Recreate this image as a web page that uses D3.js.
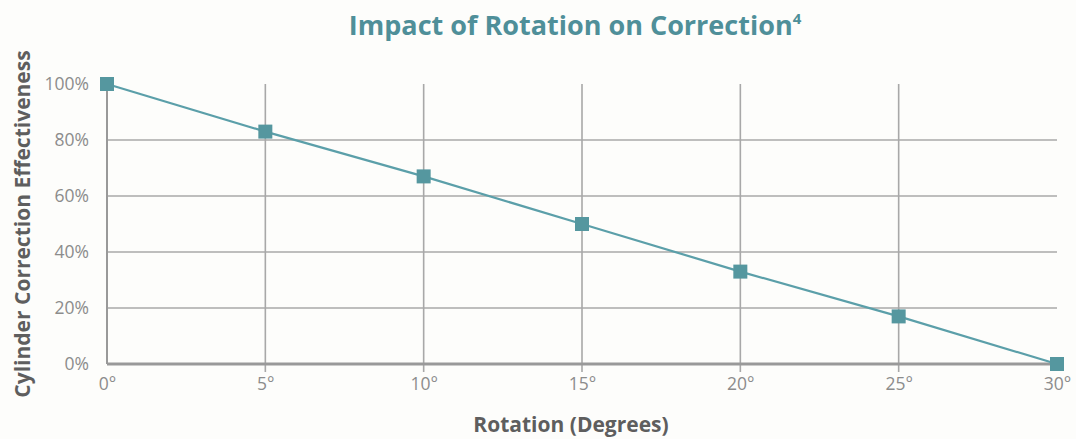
<!DOCTYPE html>
<html>
<head>
<meta charset="utf-8">
<script src="https://cdn.jsdelivr.net/npm/d3@7/dist/d3.min.js"></script>
<style>
  body { margin: 0; background: #fdfdfb; }
  svg { display: block; font-family: "Open Sans", "Noto Sans", sans-serif; }
</style>
</head>
<body>
<svg id="chart" width="1076" height="439"></svg>
<script>
// Rotation (degrees) vs. remaining cylinder correction effectiveness (%)
const rotations = [0, 5, 10, 15, 20, 25, 30];
const effectiveness = [100, 83, 67, 50, 33, 17, 0];
const yTicks = [0, 20, 40, 60, 80, 100];
const xGridTicks = [5, 10, 15, 20, 25];

const svg = d3.select("#chart");
const margin = { left: 107, right: 19, top: 84, bottom: 75 };
const W = 1076, H = 439;

const x = d3.scaleLinear().domain([0, 30]).range([margin.left, W - margin.right]);
const y = d3.scaleLinear().domain([0, 100]).range([H - margin.bottom, margin.top]);

const teal = "#5b9fa9";
const gridColor = "#a8a8a8";
const tickFont = "'Open Sans', sans-serif";

// horizontal grid lines
svg.append("g")
  .selectAll("line")
  .data(yTicks.filter(d => d > 0 && d < 100))
  .join("line")
  .attr("x1", x(0)).attr("x2", x(30))
  .attr("y1", d => y(d)).attr("y2", d => y(d))
  .attr("stroke", gridColor).attr("stroke-width", 1.6);

// vertical grid lines, extending below the baseline as ticks
svg.append("g")
  .selectAll("line")
  .data(xGridTicks)
  .join("line")
  .attr("x1", d => x(d)).attr("x2", d => x(d))
  .attr("y1", y(100)).attr("y2", y(0) + 8)
  .attr("stroke", gridColor).attr("stroke-width", 1.6);

// axis lines
svg.append("line")
  .attr("x1", x(0)).attr("x2", x(0))
  .attr("y1", y(100)).attr("y2", y(0))
  .attr("stroke", "#999").attr("stroke-width", 2);
svg.append("line")
  .attr("x1", x(0)).attr("x2", x(30))
  .attr("y1", y(0)).attr("y2", y(0))
  .attr("stroke", "#999").attr("stroke-width", 3);

// y tick labels
const yAxis = d3.axisLeft(y).tickValues(yTicks).tickSize(0).tickPadding(18)
  .tickFormat(d => d + "%");
svg.append("g").attr("transform", `translate(${x(0)},0)`).call(yAxis)
  .call(g => g.select(".domain").remove())
  .call(g => g.selectAll("text")
    .attr("fill", "#8c8c8c").style("font-size", "17.5px")
    .style("font-family", tickFont));

// x tick labels
const xAxis = d3.axisBottom(x).tickValues(rotations).tickSize(0).tickPadding(14)
  .tickFormat(d => d + "°");
svg.append("g").attr("transform", `translate(0,${y(0)})`).call(xAxis)
  .call(g => g.select(".domain").remove())
  .call(g => g.selectAll("text")
    .attr("fill", "#8c8c8c").style("font-size", "17.5px")
    .style("font-family", tickFont));

// data line
const line = d3.line().x((d, i) => x(rotations[i])).y(d => y(d));
svg.append("path")
  .datum(effectiveness)
  .attr("d", line)
  .attr("fill", "none")
  .attr("stroke", teal)
  .attr("stroke-width", 2.2);

// square markers
const s = 14;
svg.append("g")
  .selectAll("rect")
  .data(effectiveness)
  .join("rect")
  .attr("x", (d, i) => x(rotations[i]) - s / 2)
  .attr("y", d => y(d) - s / 2)
  .attr("width", s).attr("height", s)
  .attr("fill", "#55979f");

// title
const title = svg.append("text")
  .attr("x", 575).attr("y", 35)
  .attr("text-anchor", "middle")
  .attr("fill", "#4f8f99")
  .style("font-size", "27px").style("font-weight", "700");
title.append("tspan").text("Impact of Rotation on Correction");
title.append("tspan").text("4").attr("dy", -11).style("font-size", "15px");

// axis titles
svg.append("text")
  .attr("x", 571).attr("y", 432)
  .attr("text-anchor", "middle")
  .attr("fill", "#5e5e5e")
  .style("font-size", "21px").style("font-weight", "700")
  .text("Rotation (Degrees)");

svg.append("text")
  .attr("transform", `translate(30,224) rotate(-90)`)
  .attr("text-anchor", "middle")
  .attr("fill", "#5e5e5e")
  .style("font-size", "21px").style("font-weight", "700")
  .text("Cylinder Correction Effectiveness");
</script>
</body>
</html>
